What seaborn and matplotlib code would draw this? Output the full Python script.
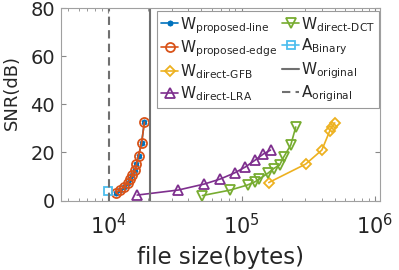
import numpy as np
import seaborn as sns
import matplotlib.pyplot as plt

# values
edge_size = [1.14e4, 1.23e4, 1.32e4, 1.40e4, 1.46e4, 1.52e4, 1.59e4, 1.63e4, 1.69e4, 1.78e4, 1.87e4]
edge_snr = [3.3, 4.4, 5.8, 7.2, 8.8, 10.6, 12.7, 15.2, 18.7, 23.8, 32.6]
line_size = edge_size
line_snr = edge_snr

gfb_size = [1.60e5, 3.03e5, 4.00e5, 4.59e5, 4.75e5, 5.00e5]
gfb_snr = [7.5, 15.2, 21.0, 29.0, 30.6, 32.3]

lra_size = [1.65e4, 3.36e4, 5.27e4, 6.95e4, 8.86e4, 1.07e5, 1.27e5, 1.46e5, 1.65e5]
lra_snr = [2.3, 4.4, 6.9, 9.0, 11.5, 14.0, 16.9, 19.4, 21.0]

dct_size = [5.09e4, 8.26e4, 1.11e5, 1.27e5, 1.36e5, 1.57e5, 1.74e5, 1.93e5, 2.07e5, 2.34e5, 2.55e5]
dct_snr = [2.1, 4.4, 6.5, 7.9, 9.0, 11.3, 13.3, 14.8, 18.1, 23.1, 30.6]

binary_size = [1.0e4]
binary_snr = [4.2]

w_original = 2.07e4
a_original = 1.02e4

blue, orange, yellow = '#0072BD', '#D95319', '#EDB120'
purple, green, cyan = '#7E2F8E', '#77AC30', '#4DBEEE'
grey = '#707070'
text_col = '#262626'

sns.set_style('ticks')
plt.rcParams['font.family'] = ['DejaVu Sans']
plt.rcParams['mathtext.fontset'] = 'dejavusans'

fig = plt.figure(figsize=(3.99, 2.70), dpi=100)
ax = fig.add_axes([0.153, 0.257, 0.8, 0.713])


def curve(x, y, color, marker, ms, label):
    sns.lineplot(x=x, y=y, ax=ax, color=color, marker=marker, markersize=ms,
                 markerfacecolor='none', markeredgecolor=color,
                 markeredgewidth=1.3, linewidth=1.2, label=label)


curve(line_size, line_snr, blue, (6, 2, 0), 4, r'W$_{\mathrm{proposed\text{-}line}}$')
curve(edge_size, edge_snr, orange, 'o', 6.5, r'W$_{\mathrm{proposed\text{-}edge}}$')
curve(gfb_size, gfb_snr, yellow, 'D', 5.5, r'W$_{\mathrm{direct\text{-}GFB}}$')
curve(lra_size, lra_snr, purple, '^', 7, r'W$_{\mathrm{direct\text{-}LRA}}$')
curve(dct_size, dct_snr, green, 'v', 7, r'W$_{\mathrm{direct\text{-}DCT}}$')
curve(binary_size, binary_snr, cyan, 's', 5.5, r'A$_{\mathrm{Binary}}$')
ax.axvline(w_original, color=grey, lw=1.5, label=r'W$_{\mathrm{original}}$')
ax.axvline(a_original, color=grey, lw=1.5, ls=(0, (4, 2.5)), label=r'A$_{\mathrm{original}}$')

ax.set_xscale('log')
ax.set_xlim(10 ** 3.647, 10 ** 6.04)
ax.set_ylim(0, 80)
ax.set_yticks([0, 20, 40, 60, 80])
ax.set_xticks([1e4, 1e5, 1e6])

ax.tick_params(which='both', direction='in', top=True, right=True, color='#888888',
               labelcolor=text_col)
ax.tick_params(axis='y', labelsize=14, pad=4.5)
ax.tick_params(axis='x', labelsize=15, pad=9)
ax.tick_params(which='major', length=3.5)
ax.tick_params(which='minor', length=2.2)
for s in ax.spines.values():
    s.set_color('#a0a0a0')
    s.set_linewidth(0.8)

ax.set_xlabel('file size(bytes)', fontsize=16.5, color=text_col)
ax.xaxis.set_label_coords(0.5, -0.235)
ax.set_ylabel('SNR(dB)', fontsize=13, color=text_col)
ax.yaxis.set_label_coords(-0.125, 0.56)

leg = ax.legend(loc='upper right', bbox_to_anchor=(0.995, 0.985), ncol=2, fontsize=11,
                handlelength=1.15, handletextpad=0.1, columnspacing=0.3,
                labelspacing=0.2, borderpad=0.25, borderaxespad=0, frameon=True,
                fancybox=False, edgecolor='#999999', framealpha=1)
leg.get_frame().set_linewidth(0.8)
for t in leg.get_texts():
    t.set_color(text_col)

fig.savefig('out.png', dpi=100)
